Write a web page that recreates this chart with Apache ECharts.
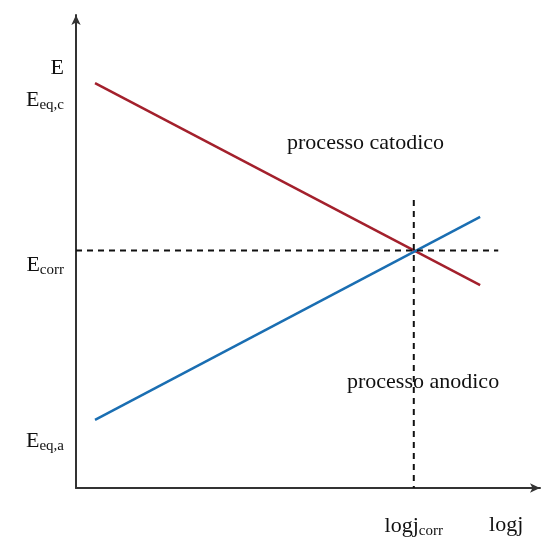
<!DOCTYPE html>
<html>
<head>
<meta charset="utf-8">
<script src="https://cdn.jsdelivr.net/npm/echarts@6/dist/echarts.min.js"></script>
<style>
  html, body { margin: 0; padding: 0; background: #fff; }
  #chart { width: 542px; height: 543px; }
</style>
</head>
<body>
<div id="chart"></div>
<script>
// valori (unità arbitrarie 0..100)
const logj = [4.1, 87.1];
const catodico = [85.6, 42.9];
const anodico = [14.4, 57.3];
const Ecorr = 50.2;
const logjCorr = 72.8;
const dashH = [0, 91];
const dashV = [60.9, 0];

// etichette degli assi
const yTicks = [88.8, 82.0, 47.1, 9.9];
const yLabels = ['{b|E}', '{b|E}{s|eq,c}', '{b|E}{s|corr}', '{b|E}{s|eq,a}'];
const xTicks = [logjCorr, 92.7];
const xLabels = ['{b|logj}{s|corr}', '{b|logj}'];

const serif = '"Liberation Serif", "DejaVu Serif", serif';
const rich = {
  b: { fontSize: 22, fontFamily: serif, color: '#111' },
  s: { fontSize: 15, fontFamily: serif, color: '#111', padding: [10, 0, 0, 0] }
};

let chart = echarts.init(document.getElementById('chart'));
let option = {
  animation: false,
  grid: { left: 76, right: 2, top: 15, bottom: 55 },
  xAxis: {
    type: 'value', min: 0, max: 100,
    splitLine: { show: false },
    axisTick: { show: false },
    axisLine: { lineStyle: { color: '#333', width: 2 }, symbol: ['none', 'arrow'], symbolSize: [7, 10] },
    axisLabel: {
      customValues: xTicks, margin: 26, rich: rich,
      formatter: (v) => xLabels[xTicks.indexOf(v)] || ''
    }
  },
  yAxis: {
    type: 'value', min: 0, max: 100,
    splitLine: { show: false },
    axisTick: { show: false },
    axisLine: { lineStyle: { color: '#333', width: 2 }, symbol: ['none', 'arrow'], symbolSize: [7, 10] },
    axisLabel: {
      customValues: yTicks, margin: 12, rich: rich,
      formatter: (v) => yLabels[yTicks.indexOf(v)] || ''
    }
  },
  series: [
    {
      type: 'line', symbol: 'none',
      lineStyle: { color: '#a3202c', width: 2.5 },
      data: logj.map((x, i) => [x, catodico[i]])
    },
    {
      type: 'line', symbol: 'none',
      lineStyle: { color: '#1a6eb2', width: 2.5 },
      data: logj.map((x, i) => [x, anodico[i]])
    },
    {
      type: 'line', symbol: 'none',
      lineStyle: { color: '#111', width: 2, type: [6, 5] },
      data: dashH.map((x) => [x, Ecorr])
    },
    {
      type: 'line', symbol: 'none',
      lineStyle: { color: '#111', width: 2, type: [6, 5] },
      data: dashV.map((y) => [logjCorr, y])
    },
    {
      type: 'scatter', symbolSize: 0,
      itemStyle: { opacity: 1 },
      label: {
        show: true, position: 'inside',
        fontSize: 22, fontFamily: serif, color: '#111', textBorderWidth: 0,
        formatter: (p) => p.data[2]
      },
      data: [[62.4, 72.9, 'processo catodico'], [74.8, 22.4, 'processo anodico']]
    }
  ]
};
option && chart.setOption(option);
</script>
</body>
</html>
